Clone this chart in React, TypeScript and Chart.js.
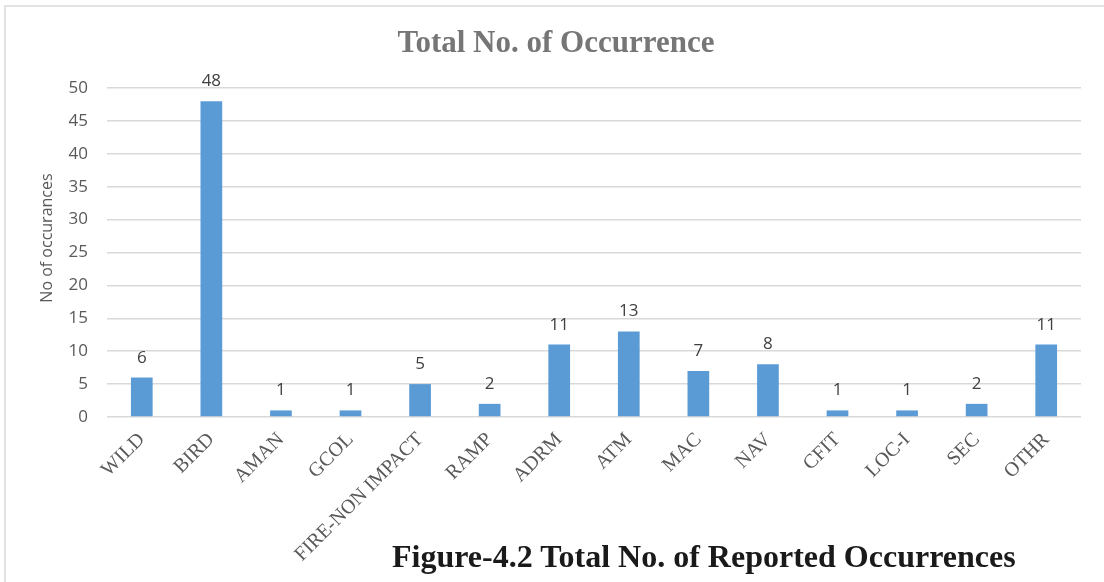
import React, { useEffect, useRef } from "react";
import { Chart, registerables } from "chart.js";

Chart.register(...registerables);

// Occurrence categories and their counts
const categories = [
  "WILD",
  "BIRD",
  "AMAN",
  "GCOL",
  "FIRE-NON IMPACT",
  "RAMP",
  "ADRM",
  "ATM",
  "MAC",
  "NAV",
  "CFIT",
  "LOC-I",
  "SEC",
  "OTHR",
];
const occurrences = [6, 48, 1, 1, 5, 2, 11, 13, 7, 8, 1, 1, 2, 11];

// Value axis range
const yMin = 0;
const yMax = 50;
const yStep = 5;

const chartTitle = "Total No. of Occurrence";
const yAxisTitle = "No of occurances";
const caption = "Figure-4.2 Total No. of Reported Occurrences";

// Draws value labels above bars, the chart heading and the rotated axis title
const textOverlay = {
  id: "textOverlay",
  afterDatasetsDraw(chart: any) {
    const { ctx } = chart;
    const meta = chart.getDatasetMeta(0);
    ctx.save();
    ctx.font = '17px "Open Sans"';
    ctx.fillStyle = "#404040";
    ctx.textAlign = "center";
    ctx.textBaseline = "alphabetic";
    meta.data.forEach((bar: any, i: number) => {
      ctx.fillText(String(occurrences[i]), bar.x, bar.y - 15);
    });

    ctx.font = 'bold 31px "Liberation Serif"';
    ctx.fillStyle = "#767676";
    ctx.fillText(chartTitle, 556, 52);

    ctx.translate(47, 238);
    ctx.rotate(-Math.PI / 2);
    ctx.textBaseline = "middle";
    ctx.font = '16px "Open Sans"';
    ctx.fillStyle = "#595959";
    ctx.fillText(yAxisTitle, 0, 0);
    ctx.restore();
  },
};

export default function App() {
  const canvasRef = useRef<HTMLCanvasElement | null>(null);

  useEffect(() => {
    if (!canvasRef.current) return;
    const chart = new Chart(canvasRef.current, {
      type: "bar",
      data: {
        labels: categories,
        datasets: [
          {
            data: occurrences,
            backgroundColor: "#5B9BD5",
            barPercentage: 0.312,
            categoryPercentage: 1,
          },
        ],
      },
      options: {
        responsive: false,
        animation: false,
        layout: { padding: { top: 88, right: 23, bottom: 0, left: 0 } },
        plugins: {
          legend: { display: false },
          tooltip: { enabled: false },
          title: { display: false },
        },
        scales: {
          x: {
            grid: { display: false },
            border: { display: false },
            ticks: {
              autoSkip: false,
              maxRotation: 45,
              minRotation: 45,
              padding: 3,
              color: "#595959",
              font: { family: '"Liberation Serif"', size: 20 },
            },
            afterFit: (scale: any) => {
              scale.height = 165;
            },
          },
          y: {
            min: yMin,
            max: yMax,
            ticks: {
              stepSize: yStep,
              padding: 19,
              color: "#595959",
              font: { family: '"Open Sans"', size: 17 },
            },
            grid: { color: "#d9d9d9", lineWidth: 1.5, drawTicks: false },
            border: { display: false },
            afterFit: (scale: any) => {
              scale.width = 107;
            },
          },
        },
      },
      plugins: [textOverlay],
    });
    return () => chart.destroy();
  }, []);

  return (
    <div
      style={{
        position: "absolute",
        left: 0,
        top: 0,
        width: 1104,
        height: 582,
        overflow: "hidden",
        background: "#ffffff",
      }}
    >
      <div
        style={{
          position: "absolute",
          left: 4,
          top: 5,
          width: 1200,
          height: 700,
          borderTop: "2px solid #e2e2e2",
          borderLeft: "2px solid #e2e2e2",
        }}
      />
      <canvas
        ref={canvasRef}
        width={1104}
        height={582}
        style={{ position: "absolute", left: 0, top: 0, width: 1104, height: 582 }}
      />
      <div
        style={{
          position: "absolute",
          left: 392,
          top: 540,
          fontFamily: '"Liberation Serif", serif',
          fontWeight: "bold",
          fontSize: 32,
          lineHeight: "32px",
          color: "#1a1a1a",
          whiteSpace: "nowrap",
        }}
      >
        {caption}
      </div>
    </div>
  );
}
